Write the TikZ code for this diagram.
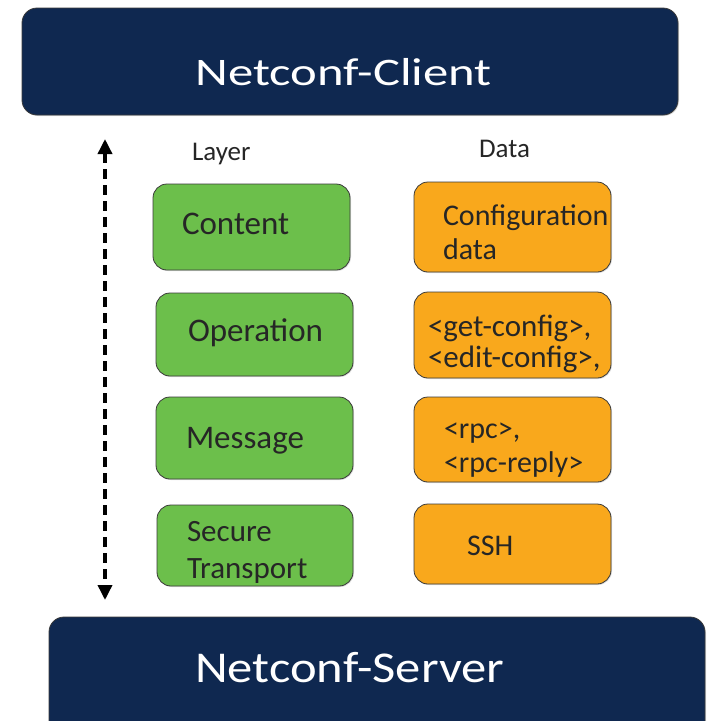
\documentclass[tikz,border=0pt]{standalone}
\usepackage{fontspec}
\setmainfont{Carlito}
\usetikzlibrary{arrows.meta,shadows}
\definecolor{navy}{HTML}{0F2850}
\definecolor{leaf}{HTML}{6CBF4B}
\definecolor{amber}{HTML}{F9A81C}
\definecolor{ink}{HTML}{262626}
\definecolor{rim}{HTML}{3A3A3A}
\tikzset{
  bigbox/.style={draw=rim, line width=0.8pt, fill=navy, rounded corners=15pt, inner sep=0pt,
    drop shadow={opacity=0.25, shadow xshift=1pt, shadow yshift=-1pt}},
  layerbox/.style={draw=rim, line width=0.8pt, fill=leaf, rounded corners=14pt, inner sep=0pt,
    drop shadow={opacity=0.25, shadow xshift=1pt, shadow yshift=-1pt}},
  databox/.style={draw=rim, line width=0.8pt, fill=amber, rounded corners=14pt, inner sep=0pt,
    drop shadow={opacity=0.25, shadow xshift=1pt, shadow yshift=-1pt}},
  txt/.style={inner sep=0pt, outer sep=0pt, anchor=base west, text=ink, align=left},
  title/.style={inner sep=0pt, anchor=base west, text=white},
  tipstyle/.tip={Triangle[length=15pt,width=14pt]},
  flow/.style={black, line width=3.5pt, dash pattern=on 10pt off 6pt, tipstyle-tipstyle}
}
\begin{document}
\begin{tikzpicture}[x=1pt,y=-1pt]
\clip (0,0) rectangle (711,721);
\useasboundingbox (0,0) rectangle (711,721);

% top and bottom bars
\draw[bigbox] (22,8) rectangle (678,115);
\node[title, font=\fontsize{39}{44}\selectfont, xscale=1.3, transform shape] (client) at (195,85) {Netconf-Client};
\draw[bigbox] (49,617) rectangle (705,740);
\node[title, font=\fontsize{44}{50}\selectfont, xscale=1.15, transform shape] (server) at (195,682) {Netconf-Server};

% column headings
\node[txt, font=\fontsize{27}{30}\selectfont] (layerhead) at (192,160) {Layer};
\node[txt, font=\fontsize{27}{30}\selectfont] (datahead) at (479,157) {Data};

% layer boxes
\node[layerbox, minimum width=197pt, minimum height=86pt] (content) at (251.5,227) {};
\node[layerbox, minimum width=197pt, minimum height=83pt] (operation) at (254.5,334.5) {};
\node[layerbox, minimum width=197pt, minimum height=82pt] (message) at (254.5,438) {};
\node[layerbox, minimum width=196pt, minimum height=81pt] (transport) at (255,545.5) {};

\node[txt, font=\fontsize{33}{37}\selectfont] (contentt) at (182,234) {Content};
\node[txt, font=\fontsize{33}{37}\selectfont] (operationt) at (188,341) {Operation};
\node[txt, font=\fontsize{33}{37}\selectfont] (messaget) at (186,448) {Message};
\node[txt, font=\fontsize{31}{37}\selectfont] (transportt) at (187,578) {Secure\\Transport};

% data boxes
\node[databox, minimum width=197pt, minimum height=90pt] (config) at (512.5,227) {};
\node[databox, minimum width=197pt, minimum height=86pt] (ops) at (512.5,335) {};
\node[databox, minimum width=197pt, minimum height=85pt] (rpc) at (512.5,439.5) {};
\node[databox, minimum width=197pt, minimum height=80pt] (ssh) at (512.5,544) {};

\node[txt, font=\fontsize{30}{34}\selectfont] (configt) at (443,259) {Configuration\\data};
\node[txt, font=\fontsize{31}{31}\selectfont] (opst) at (428,367) {<get-config>,\\<edit-config>,};
\node[txt, font=\fontsize{30}{34}\selectfont] (rpct) at (444,472) {<rpc>,\\<rpc-reply>};
\node[txt, font=\fontsize{30}{34}\selectfont] (ssht) at (467,555) {SSH};

% vertical arrow
\coordinate (up) at (105,139);
\coordinate (down) at (105,600);
\draw[flow] (up) -- (down);
\end{tikzpicture}
\end{document}
